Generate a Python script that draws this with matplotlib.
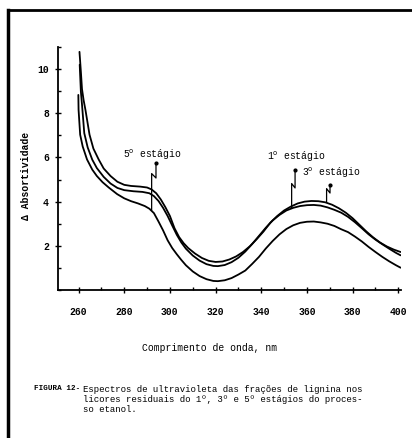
import matplotlib
matplotlib.use("Agg")
import matplotlib.pyplot as plt
from matplotlib.lines import Line2D
from matplotlib.ticker import MultipleLocator

# wavelength (nm) / delta absorptivity
wl_3 = [260.4, 261.0, 261.5, 262.2, 263.0, 264.8, 266.5, 268.8, 271, 274, 277, 280,
        283, 287, 290, 292, 294, 296, 298, 300, 302, 304, 306, 308, 311, 314, 317,
        320, 323, 326, 329, 332, 335, 338, 341, 344, 347, 350, 353, 356, 359, 362,
        365, 368, 371, 374, 377, 380, 383, 386, 389, 392, 395, 398, 401]
abs_3 = [10.78, 9.9, 9.1, 8.6, 8.16, 7.03, 6.4, 5.91, 5.5, 5.16, 4.9, 4.76,
         4.71, 4.68, 4.64, 4.55, 4.38, 4.1, 3.75, 3.35, 2.8, 2.4, 2.12, 1.9, 1.65, 1.45, 1.32,
         1.27, 1.29, 1.38, 1.52, 1.72, 1.98, 2.3, 2.65, 3.05, 3.35, 3.6, 3.78, 3.92, 4.0, 4.03,
         4.02, 3.97, 3.86, 3.7, 3.5, 3.25, 2.95, 2.65, 2.38, 2.15, 1.97, 1.83, 1.72]

wl_1 = [260.5, 261.0, 261.5, 262.5, 264, 266, 268, 271, 274, 277, 280, 284, 288,
        291, 293, 295, 297, 299, 301, 303, 305, 307, 310, 313, 316, 319, 321, 324,
        327, 330, 333, 336, 339, 342, 345, 348, 351, 354, 357, 360, 363, 366, 369,
        372, 375, 378, 381, 384, 387, 390, 393, 396, 399, 401]
abs_1 = [10.2, 9.0, 8.4, 7.1, 6.45, 5.9, 5.52, 5.12, 4.82, 4.62, 4.52, 4.47, 4.44,
         4.38, 4.25, 4.03, 3.72, 3.35, 2.92, 2.5, 2.15, 1.87, 1.56, 1.33, 1.17, 1.09, 1.08, 1.13,
         1.26, 1.46, 1.74, 2.08, 2.45, 2.82, 3.15, 3.4, 3.6, 3.72, 3.8, 3.84, 3.85, 3.82, 3.74,
         3.63, 3.5, 3.31, 3.07, 2.8, 2.52, 2.28, 2.07, 1.87, 1.68, 1.57]

wl_5 = [259.9, 260.0, 260.7, 261.8, 263.7, 266, 268, 270.5, 273.2, 276.9, 280, 283,
        286, 289, 291, 293, 295, 297, 299, 301, 303, 305, 307, 310, 313, 316, 319,
        321, 324, 327, 330, 333, 336, 339, 342, 345, 348, 351, 354, 357, 360, 363,
        366, 369, 372, 375, 378, 381, 384, 387, 390, 393, 396, 399, 401]
abs_5 = [8.83, 8.16, 7.03, 6.5, 5.91, 5.45, 5.16, 4.88, 4.64, 4.34, 4.15, 4.02,
         3.92, 3.8, 3.68, 3.48, 3.1, 2.7, 2.25, 1.9, 1.62, 1.36, 1.12, 0.84, 0.63, 0.49, 0.41,
         0.40, 0.44, 0.54, 0.7, 0.88, 1.18, 1.5, 1.88, 2.22, 2.52, 2.76, 2.93, 3.04, 3.09, 3.1,
         3.06, 3.0, 2.9, 2.75, 2.62, 2.42, 2.2, 1.95, 1.72, 1.5, 1.3, 1.12, 1.01]

x_ticks = [260, 280, 300, 320, 340, 360, 380, 400]
y_ticks = [2, 4, 6, 8, 10]

MONO = "Liberation Mono"

fig = plt.figure(figsize=(4.12, 4.38), dpi=100)
fig.patch.set_facecolor("white")
ax = fig.add_axes([0.1408, 0.3379, 0.8337, 0.5548])

for wl, ab in [(wl_3, abs_3), (wl_1, abs_1), (wl_5, abs_5)]:
    ax.plot(wl, ab, color="black", linewidth=1.3, solid_capstyle="round")

ax.set_xlim(251, 401.4)
ax.set_ylim(0, 11)
ax.set_xticks(x_ticks)
ax.set_yticks(y_ticks)
ax.xaxis.set_minor_locator(MultipleLocator(10))
ax.yaxis.set_minor_locator(MultipleLocator(1))
ax.spines["top"].set_visible(False)
ax.spines["right"].set_visible(False)
ax.spines["left"].set_linewidth(1.3)
ax.spines["bottom"].set_linewidth(1.3)
ax.tick_params(which="major", direction="inout", length=5, width=1.0,
               labelsize=7, pad=10)
ax.tick_params(axis="y", which="major", pad=4)
ax.tick_params(which="minor", direction="in", length=2.5, width=1.0)
for lab in ax.get_xticklabels() + ax.get_yticklabels():
    lab.set_fontfamily(MONO)
    lab.set_fontweight("bold")

ax.set_xlabel("Comprimento de onda, nm", fontfamily=MONO, fontsize=7)
ax.xaxis.set_label_coords(0.44, -0.22)
ax.set_ylabel("Δ Absortividade", fontfamily=MONO, fontsize=7, fontweight="bold")
ax.yaxis.set_label_coords(-0.08, 0.47)

# stage labels with break-mark leaders
labels = [
    ("5$^{\\mathrm{o}}$ estágio", 279.5, 6.11, 293.9, 292.0, 5.75, 5.07, 3.62),
    ("1$^{\\mathrm{o}}$ estágio", 342.5, 6.02, 354.8, 353.3, 5.43, 4.62, 3.70),
    ("3$^{\\mathrm{o}}$ estágio", 357.8, 5.30, 370.1, 368.6, 4.75, 4.39, 4.00),
]
for text, tx, ty, x1, x2, y0, ya, yend in labels:
    ax.text(tx, ty, text, fontfamily=MONO, fontsize=7, ha="left", va="center")
    ax.plot([x1, x1, x2, x2], [y0, ya, ya + 0.2, yend], color="black", linewidth=0.9)
    ax.plot([x1], [y0], marker="o", markersize=2, color="black")

cap_y = 1 - 385 / 438
fig.text(34 / 412, cap_y, "FIGURA 12-", fontfamily=MONO, fontsize=5.5,
         fontweight="bold", va="top")
fig.text(83 / 412, cap_y,
         "Espectros de ultravioleta das frações de lignina nos\n"
         "licores residuais do 1º, 3º e 5º estágios do proces-\n"
         "so etanol.",
         fontfamily=MONO, fontsize=6.5, va="top", linespacing=1.15)

# page frame from the scan
fig.add_artist(Line2D([8 / 412, 8 / 412], [0, 1 - 10 / 438], transform=fig.transFigure,
                      color="black", linewidth=2.5))
fig.add_artist(Line2D([8 / 412, 1], [1 - 10 / 438, 1 - 10 / 438], transform=fig.transFigure,
                      color="black", linewidth=2.0))

fig.savefig("out.png", dpi=100)
